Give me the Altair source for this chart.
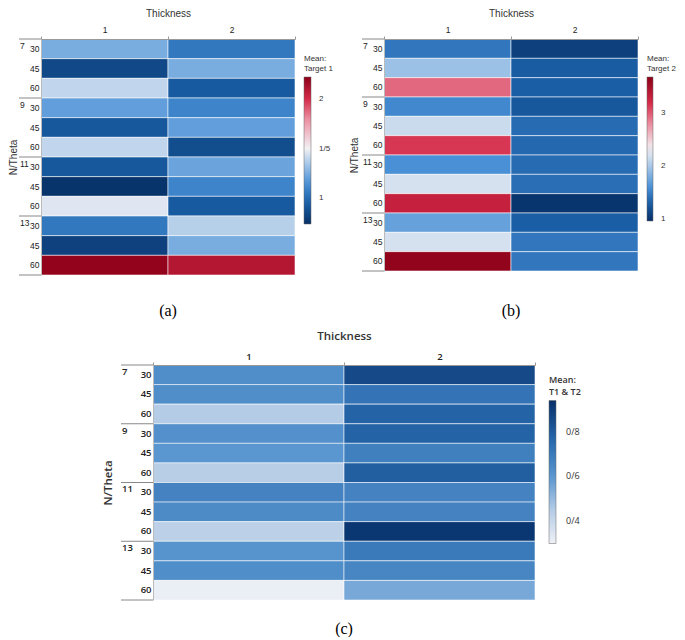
import altair as alt
import pandas as pd

N_GROUPS = ["7", "9", "11", "13"]
THETAS = ["30", "45", "60"]
THICKNESS = ["1", "2"]

# (a) Mean: Target 1  (rows: 7-30,7-45,7-60, 9-30,... 13-60)
target1_thick1 = [1.25, 0.85, 1.40, 1.20, 0.92, 1.40, 0.92, 0.76, 1.46, 1.05, 0.82, 2.20]
target1_thick2 = [1.05, 1.25, 0.93, 1.10, 1.20, 0.87, 1.22, 1.10, 0.93, 1.38, 1.25, 2.10]
# (b) Mean: Target 2
target2_thick1 = [1.45, 1.95, 2.95, 1.55, 2.15, 3.15, 1.60, 2.20, 3.30, 1.72, 2.20, 3.65]
target2_thick2 = [1.08, 1.28, 1.30, 1.25, 1.38, 1.36, 1.38, 1.40, 1.00, 1.30, 1.45, 1.45]
# (c) Mean: T1 & T2
mean_thick1 = [0.63, 0.63, 0.45, 0.62, 0.60, 0.44, 0.67, 0.64, 0.43, 0.61, 0.63, 0.31]
mean_thick2 = [0.86, 0.72, 0.78, 0.78, 0.68, 0.79, 0.67, 0.67, 0.92, 0.70, 0.66, 0.55]

ROW_ORDER = [f"{n}|{t}" for n in N_GROUPS for t in THETAS]

NARROW = "Liberation Sans, Arial, sans-serif"
WIDE = "Open Sans, Noto Sans, sans-serif"


def make_df(v1, v2):
    rows = []
    for i, key in enumerate(ROW_ORDER):
        rows.append({"row": key, "Thickness": THICKNESS[0], "value": v1[i]})
        rows.append({"row": key, "Thickness": THICKNESS[1], "value": v2[i]})
    return pd.DataFrame(rows)


def panel(v1, v2, width, height, cdomain, crange, ltitle, lvalues, lfmt,
          caption, font, fs, tfs, group_x, ytitle_pad, xlab_pad, xtitle_pad,
          legend_x, legend_y, grad_len, grad_th, label_off, cap_offset, bold=False,
          title_lh=None):
    df = make_df(v1, v2)
    yscale = alt.Scale(domain=ROW_ORDER, paddingInner=0, paddingOuter=0)
    xscale = alt.Scale(domain=THICKNESS, paddingInner=0, paddingOuter=0)
    weight = 600 if bold else "normal"
    y_axis = alt.Axis(
        title="N/Theta", labelExpr="split(datum.value, '|')[1]", ticks=False,
        domainColor="#bbb", labelPadding=2, labelFont=font, labelFontSize=fs,
        labelColor="#222", labelFontWeight=weight,
        titleFont=font, titleFontSize=tfs, titleColor="#333",
        titleFontWeight=weight, titlePadding=ytitle_pad)
    rect = alt.Chart(df).mark_rect(stroke="white", strokeWidth=0.8, strokeOpacity=0.7).encode(
        x=alt.X("Thickness:N", scale=xscale, axis=alt.Axis(
            orient="top", title="Thickness", labelAngle=0, tickBand="extent",
            domainColor="#999", tickColor="#999", tickSize=3, labelPadding=xlab_pad,
            labelFont=font, labelFontSize=fs, labelColor="#222", labelFontWeight=weight,
            titleFont=font, titleFontSize=tfs, titleFontWeight=weight,
            titleColor="#333", titlePadding=xtitle_pad)),
        y=alt.Y("row:N", scale=yscale, axis=y_axis),
        color=alt.Color("value:Q", scale=alt.Scale(domain=cdomain, range=crange, interpolate="rgb"),
                        legend=alt.Legend(
                            title=["Mean:", ltitle], orient="none", legendX=width + legend_x,
                            legendY=legend_y,
                            direction="vertical", gradientLength=grad_len, gradientThickness=grad_th,
                            values=lvalues, format=lfmt,
                            labelExpr="replace(datum.label, '.', '/')",
                            titleFont=font, titleFontSize=fs - 0.5, titleFontWeight=weight,
                            titleColor="#333", labelFont=font, labelFontSize=fs - 0.5,
                            labelColor="#333",
                            titleLineHeight=title_lh if title_lh else fs + 1.5,
                            labelOffset=label_off, titlePadding=4, gradientStrokeWidth=0.5,
                            gradientStrokeColor="#666")),
    )
    gdf = pd.DataFrame({"row": [f"{n}|30" for n in N_GROUPS], "N": N_GROUPS})
    labels = alt.Chart(gdf).mark_text(align="left", baseline="middle", dy=-3, font=font,
                                      fontSize=fs, fontWeight=weight, color="#222").encode(
        y=alt.Y("row:N", scale=yscale, axis=y_axis),
        x=alt.value(group_x + 1),
        text="N:N",
    )
    rules_top = alt.Chart(gdf).mark_rule(color="#888", strokeWidth=1).encode(
        y=alt.Y("row:N", scale=yscale, axis=y_axis, bandPosition=0),
        x=alt.value(group_x), x2=alt.value(0),
    )
    bdf = pd.DataFrame({"row": [ROW_ORDER[-1]]})
    rules_bottom = alt.Chart(bdf).mark_rule(color="#888", strokeWidth=1).encode(
        y=alt.Y("row:N", scale=yscale, axis=y_axis, bandPosition=1),
        x=alt.value(group_x), x2=alt.value(0),
    )
    return alt.layer(rect, rules_top, rules_bottom, labels).properties(
        width=width, height=height,
        title=alt.Title(caption, orient="bottom", font="Liberation Serif", fontSize=16,
                        fontWeight="normal", color="#000", offset=cap_offset),
    )


blue_red_a = ["#062f66", "#1a5fa6", "#4a90d6", "#a8c8e8", "#f3f1f4", "#eb8ea0", "#d42a48", "#8c0018"]
dom_a = [0.74, 0.95, 1.15, 1.35, 1.5, 1.8, 2.0, 2.22]
dom_b = [0.96, 1.3, 1.6, 2.0, 2.33, 2.8, 3.2, 3.69]
dom_c = [0.30, 0.45, 0.60, 0.75, 0.94]
blues_c = ["#eef0f6", "#b4cce6", "#5a96cf", "#2a6cb0", "#06306a"]

pa = panel(target1_thick1, target1_thick2, 254, 236, dom_a, blue_red_a, "Target 1",
           [1, 1.5, 2], ".2~f", "(a)", NARROW, 8.5, 10, -22, 11, 2, 7, 9, 16, 147, 7, 8, 27)
pb = panel(target2_thick1, target2_thick2, 254, 232, dom_b, blue_red_a, "Target 2",
           [1, 2, 3], "d", "(b)", NARROW, 8.5, 10, -22, 13, 2, 7, 9, 16, 144, 6, 8, 31)
pc = panel(mean_thick1, mean_thick2, 382, 235, dom_c, blues_c, "T1 & T2",
           [0.4, 0.6, 0.8], ".1f", "(c)", WIDE, 9.5, 11.5, -32, 27, 1, 10, 14, 11, 143, 7, 10, 20,
           bold=True, title_lh=11.5)

# blank left spacer so that panel (c) sits where it does in the reference
SPACER_W = 61
spacer = alt.Chart(pd.DataFrame({"blank": ["."]})).mark_text(
    color="white", fontSize=6, align="right", baseline="top").encode(
    x=alt.value(SPACER_W - 1), y=alt.value(0), text="blank:N").properties(width=SPACER_W, height=10)

top_row = alt.hconcat(pa, pb, spacing=16).resolve_scale(color="independent", x="independent", y="independent")
bottom_row = alt.hconcat(spacer, pc, spacing=0).resolve_scale(color="independent", x="independent", y="independent")

chart = alt.vconcat(
    top_row,
    bottom_row,
    spacing=11,
).resolve_scale(color="independent", x="independent", y="independent").properties(
    padding=0).configure_view(stroke=None).configure_title(anchor="middle")

chart.save("out.html", embed_options={"renderer": "svg", "actions": False})
